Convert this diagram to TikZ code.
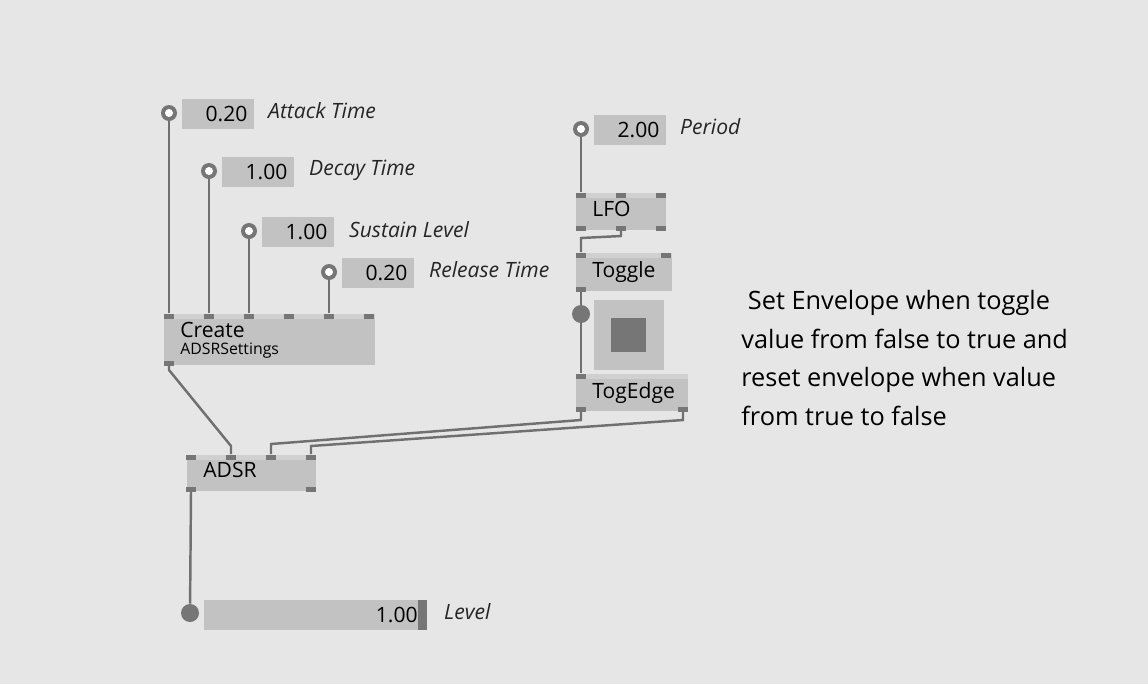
\documentclass[tikz,border=0pt]{standalone}
\usepackage{fontspec}
\setmainfont{Open Sans}
\usetikzlibrary{positioning}
\definecolor{bg}{HTML}{E6E6E6}
\definecolor{boxc}{HTML}{C2C2C2}
\definecolor{pinc}{HTML}{767676}
\definecolor{wirec}{HTML}{707070}
\tikzset{
  wire/.style={draw=wirec,line width=1.4pt},
  ionum/.style={fill=boxc,minimum width=70\pxu,minimum height=30\pxu,inner sep=4pt,anchor=north west,align=right,font=\large,text width=58\pxu},
  iolbl/.style={anchor=west,font=\large\itshape,text=black!85},
  iopin/.style={circle,fill=pinc,minimum size=16\pxu,inner sep=0pt},
  nodebox/.style={fill=boxc,anchor=north west,inner sep=0pt},
  pin/.style={fill=pinc,minimum width=10\pxu,minimum height=5\pxu,inner sep=0pt}
}
\newlength{\pxu}\setlength{\pxu}{0.02cm}
\newcommand{\inbox}[4]{% name, x, y, value
  \node[iopin] (#1c) at (#2,#3) {};
  \fill[white] (#1c) circle (4\pxu);
  \node[ionum] (#1) at ([xshift=13\pxu,yshift=14\pxu]#1c.center) {#4};}
\newcommand{\patchnode}[5]{% name, x1, y1, x2, y2
  \fill[boxc] (#2,#3) rectangle (#4,#5);
  \fill[black!8,opacity=.35] (#2,#3) rectangle (#4,#3+5);
  \coordinate (#1) at (#2,#3);}
\begin{document}
\begin{tikzpicture}[x=0.02cm,y=-0.02cm]
\fill[bg] (0,0) rectangle (1148,684);
% inputs of Create
\inbox{att}{169}{113}{0.20}
\node[iolbl] (attl) at (262,111) {Attack Time};
\inbox{dec}{209}{171}{1.00}
\node[iolbl] (decl) at (303,170) {Decay Time};
\inbox{sus}{249}{231}{1.00}
\node[iolbl] (susl) at (343,230) {Sustain Level};
\inbox{rel}{329}{272}{0.20}
\node[iolbl] (rell) at (423,270) {Release Time};
\inbox{per}{581}{129}{2.00}
\node[iolbl] (perl) at (674,127) {Period};
% patch nodes
\patchnode{create}{164}{314}{375}{365}
\node[anchor=north west,inner sep=0pt,font=\large] (createt) at (180,322) {Create};
\node[anchor=north west,inner sep=0pt,font=\small] (createsub) at (180,343) {ADSRSettings};
\patchnode{adsr}{187}{455}{316}{491}
\node[anchor=north west,inner sep=0pt,font=\large] (adsrt) at (203,462) {ADSR};
\patchnode{lfo}{576}{193}{666}{230}
\node[anchor=north west,inner sep=0pt,font=\large] (lfot) at (592,201) {LFO};
\patchnode{tog}{576}{253}{672}{291}
\node[anchor=north west,inner sep=0pt,font=\large] (togt) at (592,261) {Toggle};
\patchnode{edge}{576}{374}{688}{411}
\node[anchor=north west,inner sep=0pt,font=\large] (edget) at (592,382) {TogEdge};
% pins
\foreach \x in {169,209,249,289,329,369} \node[pin] (cin\x) at (\x,316) {};
\node[pin] (cout) at (169,363) {};
\foreach \x in {191,231,271,311} \node[pin] (ain\x) at (\x,457) {};
\foreach \x in {191,311} \node[pin] (aout\x) at (\x,489) {};
\foreach \x in {581,621,661} {\node[pin] (lin\x) at (\x,195) {}; \node[pin] (lout\x) at (\x,228) {};}
\foreach \x in {581,666} \node[pin] (tin\x) at (\x,255) {};
\node[pin] (tout) at (581,289) {};
\node[pin] (ein) at (581,376) {};
\foreach \x in {581,683} \node[pin] (eout\x) at (\x,409) {};
% toggle box
\node[iopin,minimum size=18\pxu] (togio) at (581,314) {};
\fill[boxc] (594,300) rectangle (664,370);
\fill[pinc] (611,318) rectangle (646,352);
% level
\node[iopin,minimum size=18\pxu] (levc) at (190,613) {};
\fill[boxc] (204,600) rectangle (427,630);
\fill[pinc] (418,600) rectangle (427,630);
\node[anchor=east,font=\large,inner sep=0pt] (levv) at (418,615) {1.00};
\node[iolbl] (levl) at (438,612) {Level};
% wires
\draw[wire] (attc) -- (cin169.north);
\draw[wire] (decc) -- (cin209.north);
\draw[wire] (susc) -- (cin249.north);
\draw[wire] (relc) -- (cin329.north);
\draw[wire] (perc) -- (lin581.north);
\draw[wire] (cout.south) -- (169,370) -- (231,446) -- (ain231.north);
\draw[wire] (lout621.south) -- (621,236) -- (581,238) -- (tin581.north);
\draw[wire] (tout.south) -- (togio) -- (ein.north);
\draw[wire] (eout581.south) -- (581,420) -- (271,444) -- (ain271.north);
\draw[wire] (eout683.south) -- (683,420) -- (311,446) -- (ain311.north);
\draw[wire] (aout191.south) -- (levc);
% comment
\node[anchor=north west,align=left,font=\Large,inner sep=0pt] (note) at (741,290)
  {\ Set Envelope when toggle\\[4pt]value from false to true and\\[4pt]reset envelope when value\\[4pt]from true to false};
\end{tikzpicture}
\end{document}
